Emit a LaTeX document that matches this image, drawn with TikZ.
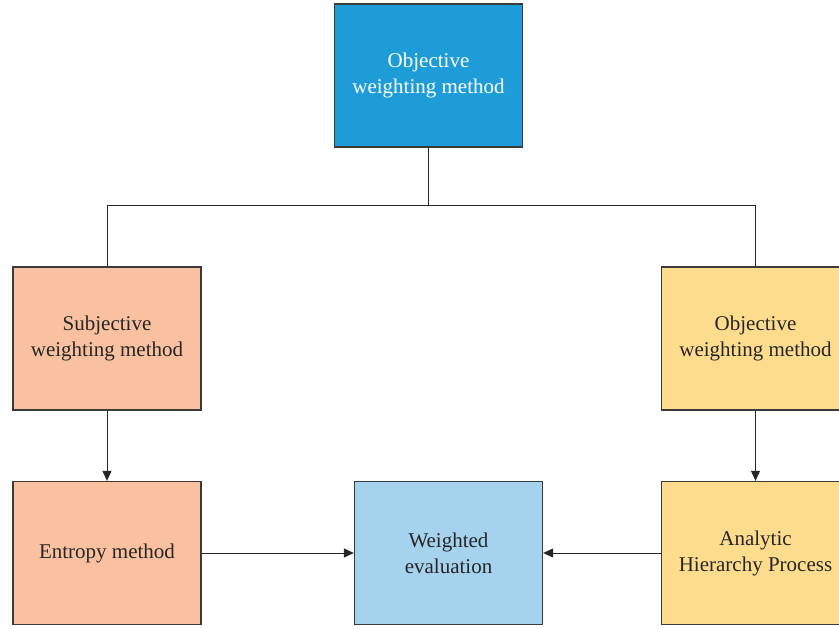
\documentclass[tikz,border=0pt]{standalone}
\usepackage{fontspec}
\setmainfont{Liberation Serif}
\usetikzlibrary{arrows.meta}
\definecolor{topblue}{HTML}{1E9CD7}
\definecolor{salmon}{HTML}{F9C19F}
\definecolor{sand}{HTML}{FDDC8E}
\definecolor{paleblue}{HTML}{A5D2EC}
\definecolor{edge}{HTML}{3A3A3A}
\tikzset{
  box/.style={draw=edge, line width=1.3pt, minimum width=188pt, minimum height=143pt,
    align=center, inner sep=0pt, font=\fontsize{21}{26}\selectfont, text=black!85},
  link/.style={draw=black!85, line width=1pt},
  arr/.style={link, -{Triangle[length=10pt,width=9pt]}}
}
\begin{document}
\begin{tikzpicture}[x=1pt,y=-1pt]
\useasboundingbox (0,0) rectangle (839,629);
\clip (0,0) rectangle (839,629);
% boxes
\node[box, fill=topblue, text=white] (top) at (428.5,75.5) {Objective\\weighting method};
\node[box, fill=salmon] (subj) at (107,338.5) {Subjective\\weighting method};
\node[box, fill=sand] (obj) at (755.5,338.5) {Objective\\weighting method};
\node[box, fill=salmon] (ent) at (107,553) {Entropy method};
\node[box, fill=paleblue] (wev) at (448.5,553) {Weighted\\evaluation};
\node[box, fill=sand] (ahp) at (755.5,553) {Analytic\\Hierarchy Process};
% branching from the top box
\coordinate (split) at (428.5,205);
\draw[link] (top.south) -- (split);
\draw[link] (split) -| (subj.north);
\draw[link] (split) -| (obj.north);
% arrows
\draw[arr] (subj.south) -- (ent.north);
\draw[arr] (obj.south) -- (ahp.north);
\draw[arr] (ent.east) -- (wev.west);
\draw[arr] (ahp.west) -- (wev.east);
\end{tikzpicture}
\end{document}
